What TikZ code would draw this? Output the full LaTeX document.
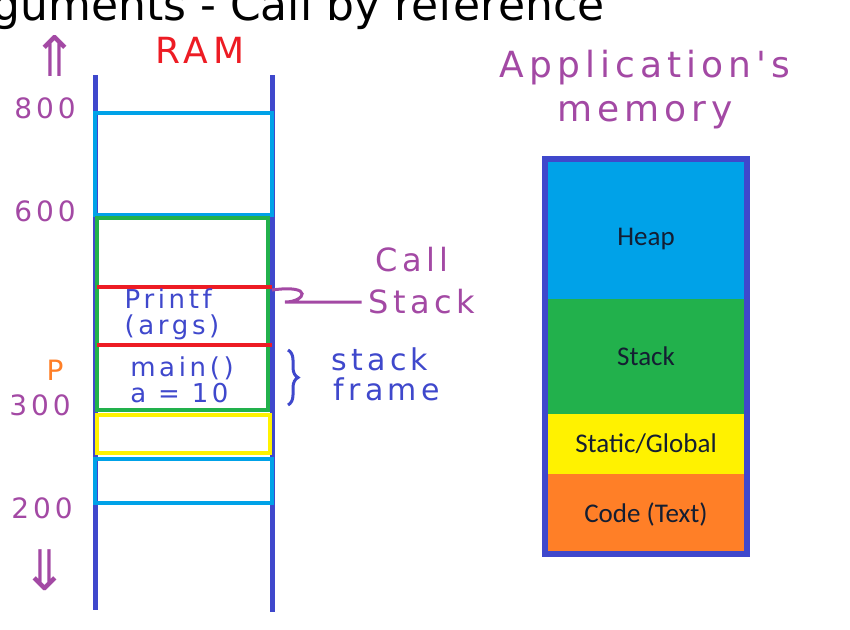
\documentclass[tikz,border=0pt]{standalone}
\usepackage{fontspec}
\setmainfont{Carlito}
\newfontfamily\hand[LetterSpace=14]{DejaVu Sans}
\newfontfamily\handtitle{DejaVu Sans}
\usetikzlibrary{positioning, calc, decorations.pathreplacing}
\definecolor{ramblue}{RGB}{63,72,204}
\definecolor{heapblue}{RGB}{0,162,232}
\definecolor{stackgreen}{RGB}{34,177,76}
\definecolor{globyellow}{RGB}{255,242,0}
\definecolor{codeorange}{RGB}{255,127,39}
\definecolor{penred}{RGB}{237,28,36}
\definecolor{penpurple}{RGB}{163,73,164}
\definecolor{inkdark}{RGB}{20,30,50}

\begin{document}
\begin{tikzpicture}[
    x=0.5pt, y=-0.5pt,
    rail/.style={draw=ramblue, line width=2.5pt},
    slot/.style={line width=2.4pt},
    addr/.style={text=penpurple, font=\hand\fontsize{14}{16}\selectfont},
    bigarrow/.style={text=penpurple, font=\hand\fontsize{28}{28}\selectfont},
    note/.style={text=ramblue, font=\hand\fontsize{13}{13}\selectfont, align=left, inner sep=0pt},
    seg/.style={rectangle, minimum width=101pt, inner sep=0pt, outer sep=0pt, text=inkdark, font=\fontsize{13.5}{15}\selectfont}
]
\useasboundingbox (0,0) rectangle (850,629);

% title, cut off at the top
\node[anchor=base west, font=\handtitle\fontsize{22}{24}\selectfont] (title) at (-62,20) {Arguments - Call by reference};

% RAM
\node[text=penred, font=\hand\fontsize{18}{20}\selectfont] (ram) at (200,50) {RAM};
\draw[rail] (95,75) -- (95,610);
\draw[rail] (272,75) -- (272,612);
\draw[slot, draw=heapblue] (95,113) rectangle (272,215);
\draw[slot, draw=stackgreen] (97,218) rectangle (268,410);
\draw[slot, draw=penred] (97,287) -- (272,287);
\draw[slot, draw=penred] (97,345) -- (272,345);
\draw[slot, draw=globyellow] (97,415) rectangle (270,453);
\draw[slot, draw=heapblue] (95,459) rectangle (272,503);

\node[bigarrow] (up) at (55,56) {⇑};
\node[addr] (a800) at (45,108) {800};
\node[addr] (a600) at (45,211) {600};
\node[addr, text=codeorange] (p) at (55,370) {P};
\node[addr] (a300) at (40,405) {300};
\node[addr] (a200) at (42,508) {200};
\node[bigarrow] (down) at (45,570) {⇓};

\node[note] (printf) at (172,314) {Printf\\(args)};
\node[note] (main) at (182,380) {main()\\ a = 10};

% labels on the right of RAM
\node[text=penpurple, font=\hand\fontsize{16}{18}\selectfont] (call) at (412,260) {Call};
\node[text=penpurple, font=\hand\fontsize{16}{18}\selectfont] (stackword) at (422,302) {Stack};
\draw[penpurple, line width=1.5pt] (272,290) .. controls (315,284) and (305,302) .. (285,302) -- (stackword.west);
\draw[ramblue, line width=1.5pt, decorate, decoration={brace, amplitude=5pt}] (288,350) -- (288,405);
\node[note, align=center, font=\hand\fontsize{15}{15}\selectfont] (frame) at (380,374) {stack\\ \ frame};

% application's memory
\node[text=penpurple, font=\hand\fontsize{18}{22}\selectfont, align=center] (appmem) at (645,90) {Application's\\memory};
\node[seg, fill=heapblue, minimum height=70pt, text height=19pt] (heap) at (646,229) {Heap};
\node[seg, fill=stackgreen, minimum height=57.5pt, below=0pt of heap] (stack) {Stack};
\node[seg, fill=globyellow, minimum height=30pt, below=0pt of stack] (global) {Static/Global};
\node[seg, fill=codeorange, minimum height=40pt, below=0pt of global] (code) {Code (Text)};
\draw[ramblue, line width=3pt] (heap.north west) rectangle (code.south east);
\end{tikzpicture}
\end{document}
